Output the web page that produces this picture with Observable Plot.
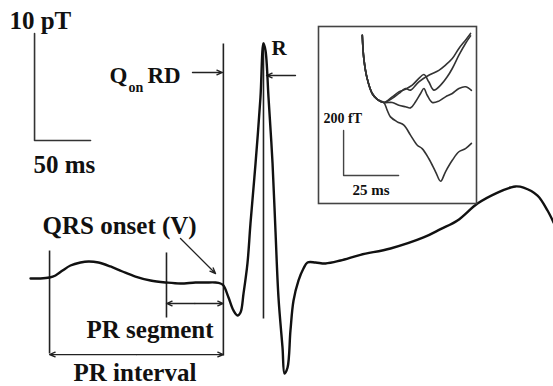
<!DOCTYPE html>
<html><head><meta charset="utf-8">
<script src="https://cdn.jsdelivr.net/npm/d3@7"></script>
<script src="https://cdn.jsdelivr.net/npm/@observablehq/plot@0.6"></script>
<style>
body{margin:0;background:#fff}
#wrap{position:relative;width:553px;height:386px;overflow:hidden;background:#fff}
#wrap svg{position:absolute;overflow:visible}
</style>
</head><body><div id="wrap"></div>
<script>
// Main MCG trace: time (ms) vs magnetic field (pT)
const mainTime = [26.8,35.7,43.8,49.1,55.4,62.5,71.4,78.6,87.5,98.2,108.9,120.5,133.9,148.2,160.7,174.1,183.0,192.0,196.4,199.1,203.6,208.0,211.6,214.3,217.0,220.5,223.2,227.7,232.1,234.8,236.6,239.3,242.9,245.5,248.2,251.8,253.6,256.3,258.9,261.6,266.1,270.5,274.1,281.3,290.2,303.6,321.4,348.2,377.7,392.9,408.0,425.9,443.8,455.4,459.8,467.0,479.5,488.4,493.8];
const mainField = [0.19,0.19,0.28,0.47,0.93,1.40,1.68,1.78,1.68,1.31,0.84,0.37,0,-0.19,-0.28,-0.19,-0.19,-0.19,-0.28,-0.47,-1.59,-2.80,-3.27,-2.99,-1.21,1.59,5.33,10.93,17.10,22.15,21.50,17.10,10.93,4.67,-1.59,-6.26,-8.69,-8.13,-4.67,-1.9,0.0,1.12,1.68,1.68,1.59,1.87,2.40,2.99,4.02,4.80,5.61,7.20,8.22,8.69,8.79,8.69,7.94,6.54,5.42];

// Vertical marker lines (ms) with their extent (pT)
const markerTime   = [43.8, 148.2, 199.0, 234.8];
const markerTop    = [2.80, 2.62, 22.15, 22.24];
const markerBottom = [-6.82, -3.46, -7.01, -3.55];

// Inset: QRS onset detail, time (ms) vs field (fT)
const trunkTime  = [19.9,20.6,22.1,24.4,26.7,29.7];
const trunkField = [748,644,556,489,463,449];
const curveATime  = [31.2,32.7,35.8,38.8,41.8,44.9,47.1,50.1,53.2,55.5,57.7,60.8,63.8,66.8,69.5];
const curveAField = [415,385,363,348,304,259,244,200,141,99,141,192,230,244,267];
const curveBTime  = [33.5,36.5,39.5,41.8,44.1,46.4,47.9,49.4,51.7,54.7,57.7,60.8,63.8,66.8,69.5];
const curveBField = [449,437,430,425,452,489,511,481,449,455,474,489,511,519,503];
const curveCTime  = [33.5,36.5,39.5,42.6,45.6,47.9,50.1,52.4,55.5,58.5,60.8,63.8,66.8,69.1];
const curveCField = [474,496,508,526,556,573,541,504,526,563,600,659,711,745];
const curveDTime  = [33.5,36.5,39.5,41.8,45.6,50.1,54.7,57.7,60.8,63.8,66.8,69.1];
const curveDField = [467,489,511,504,541,570,592,615,644,689,726,756];

const FONT = "Liberation Serif, Times New Roman, serif";
const INK = "#111";

const mainData = mainTime.map((t, i) => ({t, f: mainField[i]}));
const markers = markerTime.map((t, i) => ({t, top: markerTop[i], bottom: markerBottom[i]}));

const lbl = (text, x, y, size) => Plot.text([text], {
  x: () => x, y: () => y, text: d => d, textAnchor: "start", lineAnchor: "bottom",
  fontFamily: FONT, fontWeight: "bold", fontSize: size, fill: INK
});
const arrow = (x1, y1, x2, y2) => Plot.arrow([0], {
  x1: () => x1, y1: () => y1, x2: () => x2, y2: () => y2,
  stroke: "#222", strokeWidth: 1.3, headLength: 7, headAngle: 45
});

const main = Plot.plot({
  width: 553, height: 386, margin: 0,
  x: {domain: [0, 493.75], axis: null},
  y: {domain: [-9.907, 26.168], axis: null},
  marks: [
    // scale bars
    Plot.line([[30.4, 23.08], [30.4, 13.08], [80.4, 13.08]], {x: d => d[0], y: d => d[1], stroke: "#333", strokeWidth: 1.6}),
    // marker lines
    Plot.link(markers, {x1: "t", x2: "t", y1: "top", y2: "bottom", stroke: "#222", strokeWidth: 1.6}),
    // interval arrows
    arrow(173.6, -2.15, 148.2, -2.15), arrow(173.6, -2.15, 199.0, -2.15),
    arrow(121.4, -6.92, 43.8, -6.92), arrow(121.4, -6.92, 199.0, -6.92),
    arrow(171.4, 19.44, 198.2, 19.44),
    arrow(263.4, 19.16, 237.5, 19.16),
    arrow(160.7, 3.93, 192.0, 0.65),
    // main trace
    Plot.line(mainData, {x: "t", y: "f", stroke: INK, strokeWidth: 2.4, curve: "catmull-rom"}),
    // labels
    lbl("10 pT", 8.0, 23.55, 25),
    lbl("50 ms", 29.5, 10.0, 25),
    lbl("QRS onset (V)", 37.5, 4.39, 25),
    lbl("PR segment", 76.8, -5.42, 25),
    lbl("PR interval", 65.2, -9.40, 25),
    lbl("Q", 97.3, 18.5, 23),
    lbl("on", 114.3, 17.57, 14),
    lbl("RD", 131.2, 18.5, 23),
    lbl("R", 242.0, 21.03, 21)
  ]
});

const insetRows = [];
[["A", curveATime, curveAField], ["B", curveBTime, curveBField], ["C", curveCTime, curveCField], ["D", curveDTime, curveDField]]
  .forEach(([id, ts, fs]) => {
    trunkTime.forEach((t, i) => insetRows.push({id, t, f: trunkField[i]}));
    ts.forEach((t, i) => insetRows.push({id, t, f: fs[i]}));
  });

const inset = Plot.plot({
  width: 162, height: 181, margin: 2,
  x: {domain: [0, 71.8], axis: null},
  y: {domain: [0, 786.7], axis: null},
  marks: [
    Plot.frame({stroke: "#444", strokeWidth: 1.6}),
    Plot.line(insetRows, {x: "t", y: "f", z: "id", stroke: "#333", strokeWidth: 1.6, curve: "catmull-rom"}),
    Plot.line([[11.4, 324.4], [11.4, 124.4], [36.4, 124.4]], {x: d => d[0], y: d => d[1], stroke: "#444", strokeWidth: 1.4}),
    Plot.text(["200 fT"], {x: () => 2.3, y: () => 360, text: d => d, textAnchor: "start", lineAnchor: "bottom", fontFamily: FONT, fontWeight: "bold", fontSize: 14, fill: INK}),
    Plot.text(["25 ms"], {x: () => 15.5, y: () => 35.6, text: d => d, textAnchor: "start", lineAnchor: "bottom", fontFamily: FONT, fontWeight: "bold", fontSize: 15, fill: INK})
  ]
});

main.style.left = "0px"; main.style.top = "0px";
inset.style.left = "316px"; inset.style.top = "24px";
const wrap = document.getElementById("wrap");
wrap.appendChild(main);
wrap.appendChild(inset);
</script>
</body></html>
